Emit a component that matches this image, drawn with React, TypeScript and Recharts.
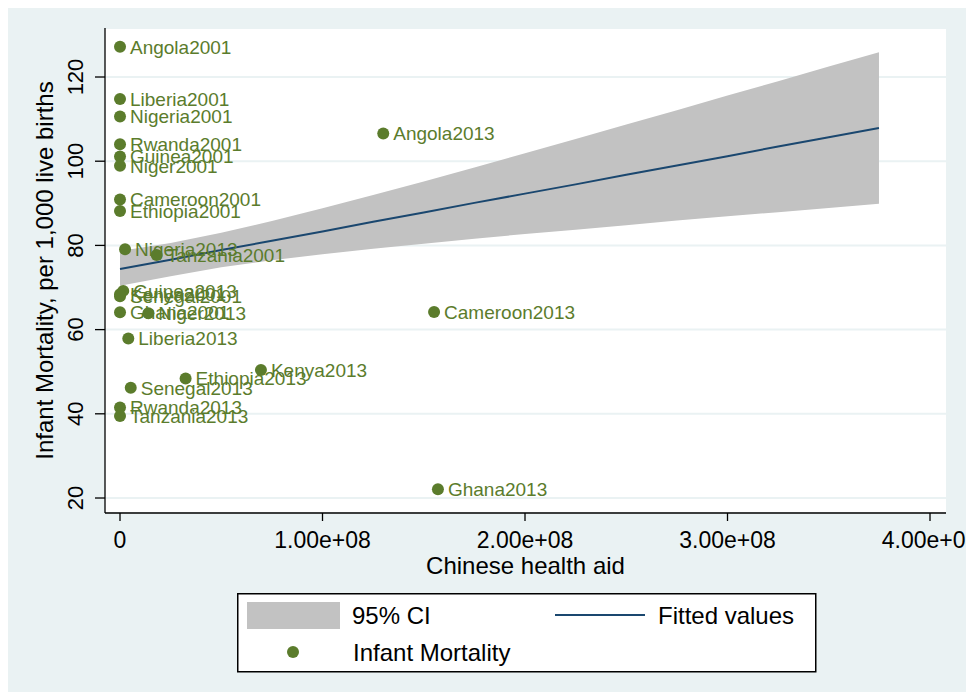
import { Area, CartesianGrid, ComposedChart, Legend, Line, Scatter, XAxis, YAxis } from 'recharts'

const countries = [
  'Angola2001', 'Liberia2001', 'Nigeria2001', 'Rwanda2001', 'Guinea2001', 'Niger2001',
  'Cameroon2001', 'Ethiopia2001', 'Nigeria2013', 'Tanzania2001', 'Guinea2013', 'Senegal2001',
  'Kenya2001', 'Ghana2001', 'Niger2013', 'Liberia2013', 'Kenya2013', 'Ethiopia2013',
  'Senegal2013', 'Rwanda2013', 'Tanzania2013', 'Angola2013', 'Cameroon2013', 'Ghana2013',
]
const healthAid = [
  0, 0, 0, 0, 0, 0,
  0, 0, 2.5e6, 18.1e6, 1.6e6, 0,
  0, 0, 14e6, 4.1e6, 69.6e6, 32.4e6,
  5.3e6, 0, 0, 130e6, 155.1e6, 157e6,
]
const infantMortality = [
  127.2, 114.8, 110.6, 104.0, 101.1, 98.9,
  90.9, 88.2, 79.1, 77.7, 69.2, 67.9,
  68.4, 64.1, 63.9, 57.9, 50.4, 48.4,
  46.2, 41.5, 39.5, 106.6, 64.2, 22.1,
]

// fitted line and 95% CI
const fitAid = [0, 25e6, 50e6, 75e6, 100e6, 125e6, 150e6, 175e6, 200e6, 225e6, 250e6, 275e6, 300e6, 325e6, 350e6, 374.8e6]
const ciUpper = [78.7, 80.6, 83.0, 85.8, 88.8, 92.0, 95.2, 98.5, 101.9, 105.3, 108.7, 112.1, 115.6, 119.0, 122.5, 125.9]
const ciLower = [70.4, 72.7, 74.8, 76.5, 77.9, 79.2, 80.4, 81.6, 82.7, 83.7, 84.8, 85.9, 86.9, 87.9, 88.9, 89.9]
const fittedValues = [74.4, 76.6, 78.9, 81.1, 83.3, 85.6, 87.8, 90.1, 92.3, 94.5, 96.8, 99.0, 101.2, 103.5, 105.7, 107.9]

const xTicks = [0, 1e8, 2e8, 3e8, 4e8]
const yTicks = [20, 40, 60, 80, 100, 120]

const fitData = fitAid.map((x, i) => ({ x, ci: [ciLower[i], ciUpper[i]], fit: fittedValues[i] }))
const points = countries.map((label, i) => ({ x: healthAid[i], y: infantMortality[i], label }))

const BG = '#eaf2f3'
const GREEN = '#5b7c2c'
const NAVY = '#1a476f'
const CI_GRAY = '#c2c2c2'
const FONT = '"Liberation Sans", Arial, sans-serif'

const fmtAid = (v: number) => (v === 0 ? '0' : v.toExponential(2).replace(/e\+(\d)$/, 'e+0$1'))

function YTick(props: any) {
  const { x, y, payload } = props
  const tx = x - 12
  return (
    <text x={tx} y={y} transform={`rotate(-90, ${tx}, ${y})`} textAnchor='middle' fontSize={22} fill='#000' fontFamily={FONT}>
      {payload.value}
    </text>
  )
}

function Dot(props: any) {
  const { cx, cy, payload } = props
  return (
    <g>
      <circle cx={cx} cy={cy} r={6} fill={GREEN} />
      <text x={cx + 10} y={cy} dy='0.36em' fontSize={19} fill={GREEN} fontFamily={FONT}>
        {payload.label}
      </text>
    </g>
  )
}

function StataLegend() {
  return (
    <svg width={580} height={80} style={{ display: 'block' }}>
      <rect x={0.75} y={0.75} width={578} height={78} fill='#fff' stroke='#000' strokeWidth={1.5} />
      <rect x={10} y={9} width={93} height={27} fill={CI_GRAY} />
      <text x={115} y={22} dy='0.36em' fontSize={24} fontFamily={FONT} fill='#000'>95% CI</text>
      <line x1={318} x2={408} y1={22} y2={22} stroke={NAVY} strokeWidth={2} />
      <text x={421} y={22} dy='0.36em' fontSize={24} fontFamily={FONT} fill='#000'>Fitted values</text>
      <circle cx={56} cy={59} r={6} fill={GREEN} />
      <text x={116} y={59} dy='0.36em' fontSize={24} fontFamily={FONT} fill='#000'>Infant Mortality</text>
    </svg>
  )
}

export default function App() {
  return (
    <div style={{ position: 'relative', width: 966, height: 694, marginTop: -2, marginBottom: -8, overflow: 'hidden' }}>
      <div style={{ position: 'absolute', left: 0, top: 0, width: 962, height: 694, background: BG }} />
      <div style={{ position: 'absolute', left: 0, top: 0 }}>
        <ComposedChart width={966} height={694} data={fitData} margin={{ top: 22, right: 28, bottom: 127, left: 0 }}>
          <CartesianGrid vertical={false} stroke={BG} strokeWidth={2} fill='#ffffff' fillOpacity={1} />
          <XAxis
            type='number'
            dataKey='x'
            domain={[-7.41e6, 407.9e6]}
            ticks={xTicks}
            tickFormatter={fmtAid}
            allowDataOverflow
            height={60}
            tickSize={8}
            tickMargin={11}
            stroke='#000'
            strokeWidth={1.3}
            tick={{ fill: '#000', fontSize: 23, fontFamily: FONT }}
            label={{
              content: (p: any) => {
                const vb = p.viewBox || { x: 0, y: 507, width: 841 }
                return (
                  <text x={vb.x + vb.width / 2} y={vb.y + 61} textAnchor='middle' fontSize={24} fontFamily={FONT} fill='#000'>
                    Chinese health aid
                  </text>
                )
              },
            }}
          />
          <YAxis
            type='number'
            domain={[16.44, 131.64]}
            ticks={yTicks}
            allowDataOverflow
            width={97}
            tickSize={10}
            tickMargin={0}
            stroke='#000'
            strokeWidth={1.3}
            tick={<YTick />}
            label={{
              content: (p: any) => {
                const vb = p.viewBox || { x: 0, y: 22, width: 97, height: 485 }
                const lx = vb.x + 45
                const ly = vb.y + vb.height / 2
                return (
                  <text x={lx} y={ly} transform={`rotate(-90, ${lx}, ${ly})`} textAnchor='middle' fontSize={24} fontFamily={FONT} fill='#000'>
                    Infant Mortality, per 1,000 live births
                  </text>
                )
              },
            }}
          />
          <Area type='linear' dataKey='ci' name='95% CI' fill={CI_GRAY} fillOpacity={1} stroke='none' isAnimationActive={false} />
          <Line type='linear' dataKey='fit' name='Fitted values' stroke={NAVY} strokeWidth={2} dot={false} isAnimationActive={false} />
          <Scatter data={points} dataKey='y' name='Infant Mortality' shape={<Dot />} isAnimationActive={false} />
          <Legend
            layout='horizontal'
            align='center'
            verticalAlign='middle'
            wrapperStyle={{ left: 229, top: 587, width: 580, height: 80 }}
            content={() => <StataLegend />}
          />
        </ComposedChart>
      </div>
    </div>
  )
}
